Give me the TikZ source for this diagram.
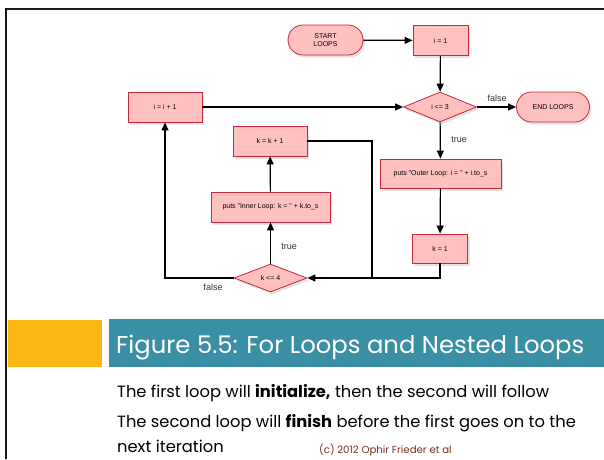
\documentclass[tikz,border=0pt]{standalone}
\usepackage{fontspec}
\setmainfont{Liberation Sans}
\newfontfamily\slidefont{Poppins}
\usetikzlibrary{arrows.meta,shapes.geometric,shapes.misc,shadows}
\definecolor{boxfill}{RGB}{255,192,192}
\definecolor{boxline}{RGB}{200,40,60}
\definecolor{teal}{RGB}{58,143,165}
\definecolor{gold}{RGB}{253,184,19}
\definecolor{copyc}{RGB}{120,50,30}
\tikzset{
  fbox/.style={rectangle,draw=boxline,fill=boxfill,line width=0.8pt,inner sep=0pt,
    font=\fontsize{7}{8}\selectfont,align=center,
    drop shadow={opacity=0.22,shadow xshift=2pt,shadow yshift=-2.5pt}},
  term/.style={fbox,rounded rectangle},
  cond/.style={fbox,diamond,aspect=2.4},
  arr/.style={line width=1.2pt,-{Triangle[length=8pt,width=7pt]}},
  ln/.style={line width=1.2pt},
  lbl/.style={font=\fontsize{9}{10}\selectfont,text=black!80,inner sep=0pt},
  body/.style={anchor=base west,inner sep=0pt,font=\slidefont\fontsize{16.3}{19}\selectfont},
}
\begin{document}
\begin{tikzpicture}[x=1pt,y=-1pt]
\useasboundingbox (0,0) rectangle (604,459);
\fill[white] (0,0) rectangle (604,459);
% frame
\draw[line width=2pt,black!90] (6,459) -- (6,9) -- (604,9);
% nodes
\node[term,minimum width=75pt,minimum height=30pt] (start) at (325.5,40) {START\\LOOPS};
\node[fbox,minimum width=55pt,minimum height=30pt] (i1) at (440.5,40.5) {i = 1};
\node[cond,minimum width=73pt,minimum height=30pt] (c3) at (440,107) {i <= 3};
\node[term,minimum width=73pt,minimum height=30pt] (endl) at (553,107) {END LOOPS};
\node[fbox,minimum width=74pt,minimum height=30pt] (ii1) at (165,107) {i = i + 1};
\node[fbox,minimum width=74pt,minimum height=30pt] (kk1) at (270,141) {k = k + 1};
\node[fbox,minimum width=119pt,minimum height=30pt] (inner) at (270.5,207) {puts "Inner Loop: k = " + k.to\_s};
\node[cond,minimum width=73pt,minimum height=28pt] (c4) at (270.5,278) {k <= 4};
\node[fbox,minimum width=121pt,minimum height=29pt] (outer) at (440.5,173.5) {puts "Outer Loop: i = " + i.to\_s};
\node[fbox,minimum width=55pt,minimum height=29pt] (k1) at (440,248.5) {k = 1};
\coordinate (j) at (372,278);
% edges
\draw[arr] (start) -- (i1);
\draw[arr] (i1) -- (c3);
\draw[arr] (c3) -- (endl);
\draw[arr] (c3) -- (outer);
\draw[arr] (outer) -- (k1);
\draw[arr] (k1.south) |- (c4.east);
\draw[ln] (kk1.east) -| (j);
\draw[arr] (c4) -- (inner);
\draw[arr] (inner) -- (kk1);
\draw[arr] (c4.west) -| (ii1.south);
\draw[arr] (ii1) -- (c3);
% labels
\node[lbl] (lf1) at (497,98) {false};
\node[lbl] (lt1) at (459,140) {true};
\node[lbl] (lt2) at (289,247) {true};
\node[lbl] (lf2) at (213,287) {false};
% title bar
\fill[gold] (8,320) rectangle (102,367);
\fill[teal] (109,319) rectangle (604,367);
\node[anchor=base west,inner sep=0pt,text=white,font=\slidefont\fontsize{24.3}{28}\selectfont] (title) at (116,353) {Figure 5.5: For Loops and Nested Loops};
% body
\node[body] (b1) at (117,397) {The first loop will \textbf{initialize,} then the second will follow};
\node[body] (b2) at (117,427) {The second loop will \textbf{finish} before the first goes on to the};
\node[body] (b3) at (117,452) {next iteration};
\node[anchor=base west,inner sep=0pt,text=copyc,font=\slidefont\fontsize{10.2}{12}\selectfont] (copy) at (319,453) {(c) 2012 Ophir Frieder et al};
\end{tikzpicture}
\end{document}
